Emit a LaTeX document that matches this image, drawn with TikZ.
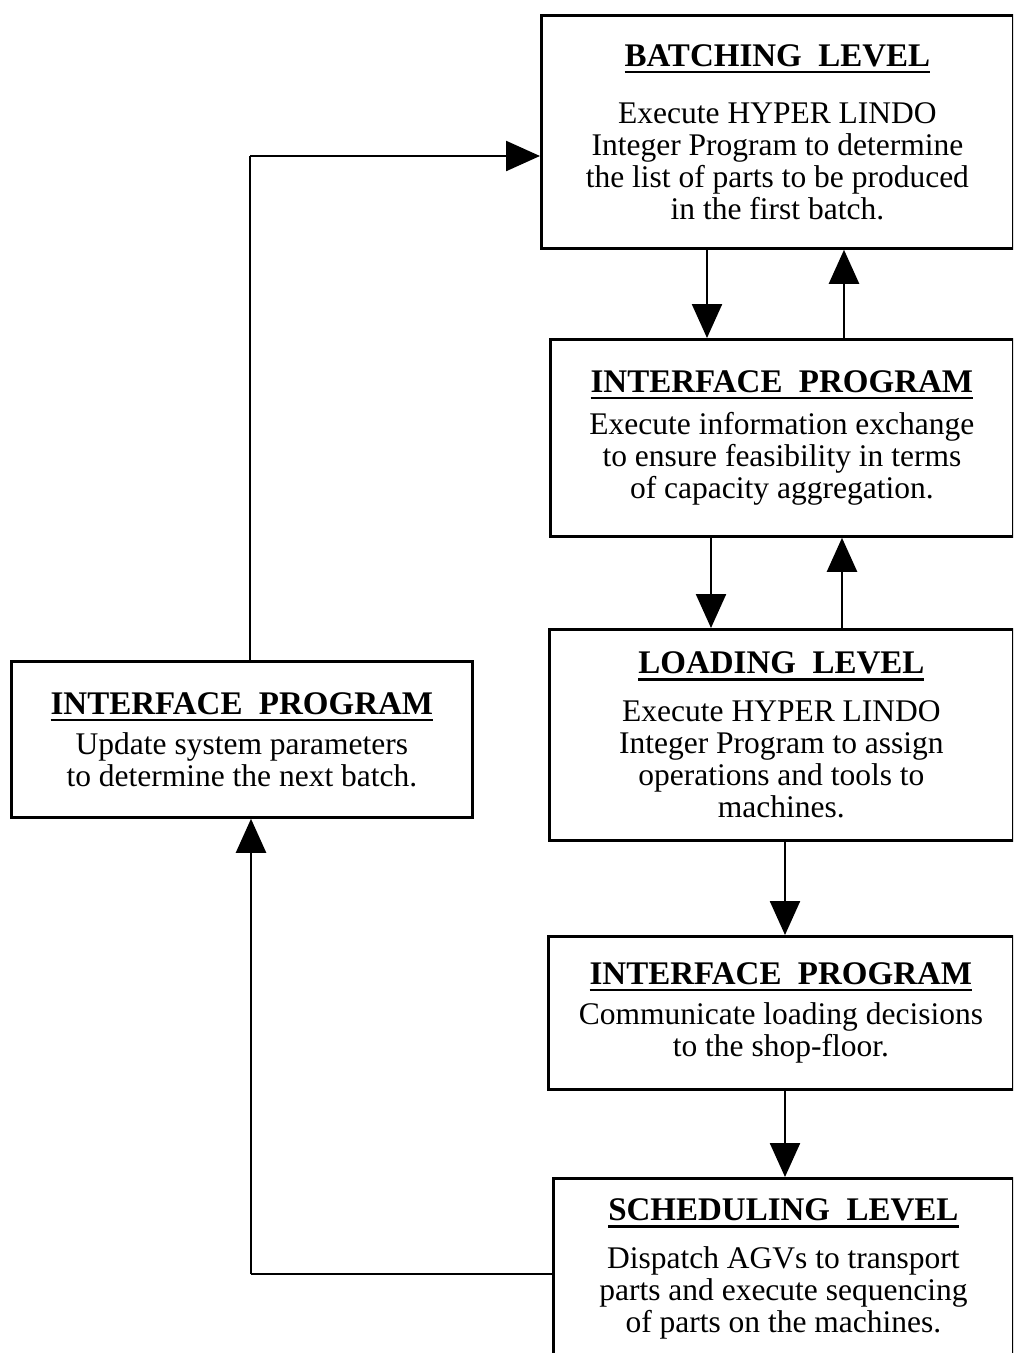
\documentclass[tikz,border=0pt]{standalone}
\usepackage{fontspec}
\setmainfont{Liberation Serif}
\usetikzlibrary{arrows.meta}

% bold underlined stage heading
\newcommand{\headline}[1]{{\bfseries\fontsize{33}{32}\selectfont
  \setbox0\hbox{#1}\rlap{\vrule height -4.5pt depth 7pt width \wd0}\box0}}

\tikzset{
  box/.style={draw, line width=2.8pt, anchor=north west, inner sep=0pt,
    align=center, font=\fontsize{31.5}{32}\selectfont},
  flow/.style={line width=2.4pt, -{Triangle[length=34pt,width=30pt]}},
  link/.style={line width=2.4pt}
}

\begin{document}
\begin{tikzpicture}[x=1pt,y=-1pt]
\useasboundingbox (0,0) rectangle (1013,1353);
\clip (0,0) rectangle (1013,1353);
\fill[white] (0,0) rectangle (1013,1353);

% the five stages on the right
\node[box, minimum width=472pt, minimum height=233pt] (batch) at (540,14)
  {\headline{BATCHING\ \ LEVEL}\\[25pt]
   Execute HYPER LINDO\\Integer Program to determine\\
   the list of parts to be produced\\in the first batch.};
\node[box, minimum width=463pt, minimum height=197pt] (ifa) at (549,338)
  {\headline{INTERFACE\ \ PROGRAM}\\[10pt]
   Execute information exchange\\to ensure feasibility in terms\\
   of capacity aggregation.};
\node[box, minimum width=464pt, minimum height=211pt] (load) at (548,628)
  {\headline{LOADING\ \ LEVEL}\\[16pt]
   Execute HYPER LINDO\\Integer Program to assign\\
   operations and tools to\\machines.};
\node[box, minimum width=465pt, minimum height=153pt] (ifb) at (547,935)
  {\headline{INTERFACE\ \ PROGRAM}\\[8pt]
   Communicate loading decisions\\to the shop-floor.};
\node[box, minimum width=460pt, minimum height=182pt] (sched) at (552,1177)
  {\headline{SCHEDULING\ \ LEVEL}\\[16pt]
   Dispatch AGVs to transport\\parts and execute sequencing\\
   of parts on the machines.};

% feedback stage on the left
\node[box, minimum width=461pt, minimum height=156pt] (upd) at (10,660)
  {\headline{INTERFACE\ \ PROGRAM}\\[8pt]
   Update system parameters\\to determine the next batch.};

% downward and upward connectors between the stages
\draw[flow] (batch.south -| 707,0) -- (ifa.north -| 707,0);
\draw[flow] (ifa.north -| 844,0) -- (batch.south -| 844,0);
\draw[flow] (ifa.south -| 711,0) -- (load.north -| 711,0);
\draw[flow] (load.north -| 842,0) -- (ifa.south -| 842,0);
\draw[flow] (load.south -| 785,0) -- (ifb.north -| 785,0);
\draw[flow] (ifb.south -| 785,0) -- (sched.north -| 785,0);

% feedback loop
\coordinate (fbA) at (251,1274);
\coordinate (fbB) at (250,156);
\draw[link] (sched.west |- fbA) -- (fbA);
\draw[flow] (fbA) -- (fbA |- upd.south);
\draw[link] (upd.north -| fbB) -- (fbB);
\draw[flow] (fbB) -- (batch.west |- fbB);
\end{tikzpicture}
\end{document}
